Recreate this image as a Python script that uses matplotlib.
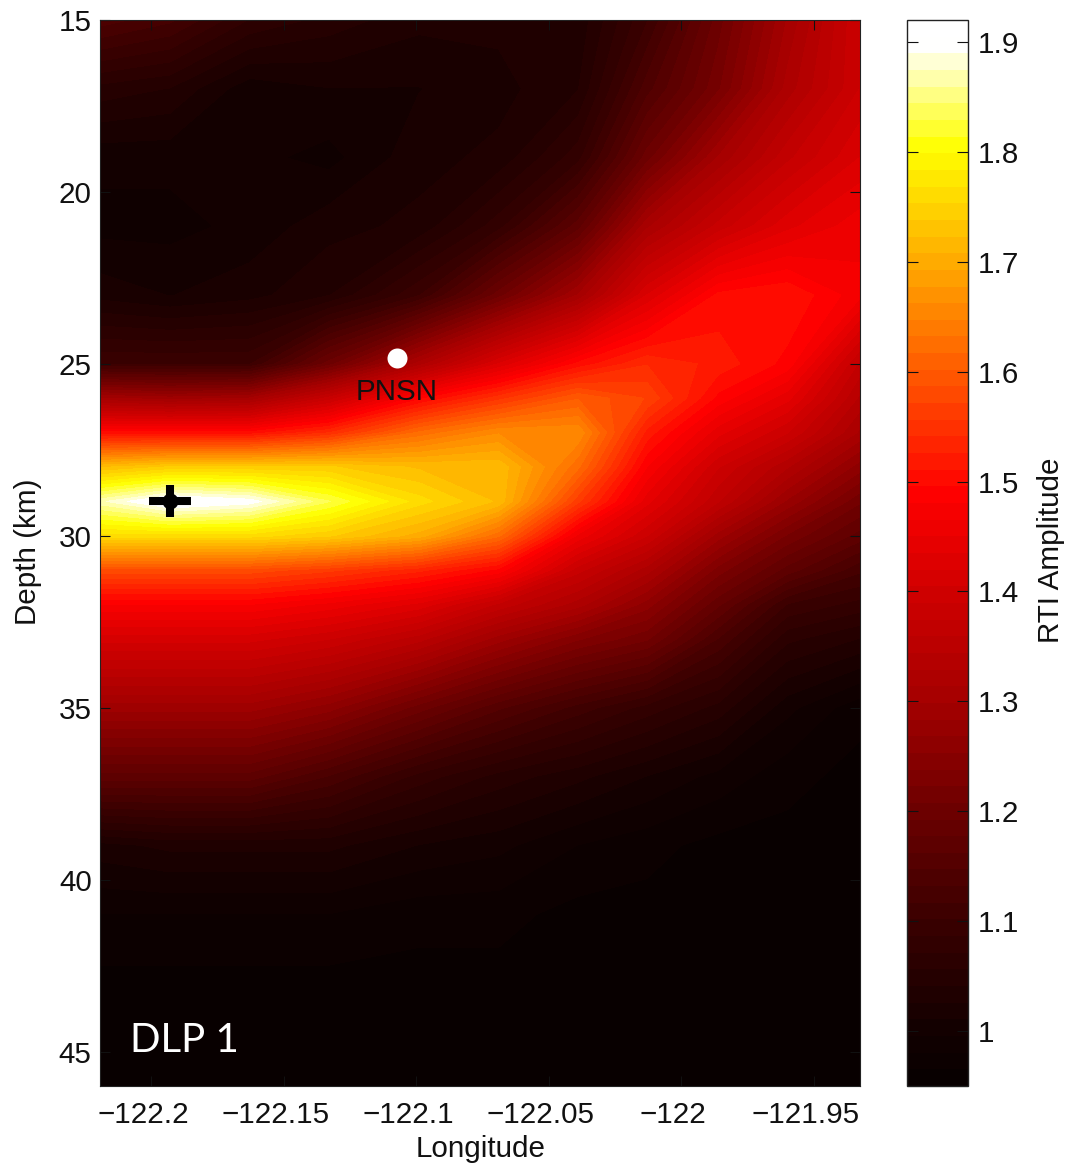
import numpy as np
import matplotlib
matplotlib.use('Agg')
import matplotlib.pyplot as plt
from matplotlib.colors import LinearSegmentedColormap
from matplotlib.transforms import ScaledTranslation

plt.rcParams['font.family'] = ['Liberation Sans', 'DejaVu Sans']

lons = [-122.2194, -122.193, -122.163, -122.133, -122.099, -122.069, -122.039, -122.013, -121.986, -121.96, -121.9326]
depths = [15, 17, 19, 21, 23, 25, 26, 27, 28, 29, 30, 31, 32, 33, 35, 37, 39, 41, 43, 46]

# RTI amplitude, one row per depth
rti = [
    [1.14, 1.12, 1.07, 1.05, 1.03, 1.03, 1.03, 1.10, 1.20, 1.30, 1.39],
    [1.05, 1.04, 1.00, 1.01, 1.01, 1.02, 1.04, 1.14, 1.22, 1.32, 1.39],
    [1.00, 1.00, 1.00, 0.99, 1.02, 1.03, 1.08, 1.20, 1.30, 1.37, 1.42],
    [0.99, 0.99, 1.00, 1.02, 1.03, 1.08, 1.17, 1.31, 1.38, 1.43, 1.46],
    [1.02, 1.01, 1.02, 1.04, 1.10, 1.20, 1.30, 1.42, 1.50, 1.51, 1.47],
    [1.10, 1.10, 1.10, 1.20, 1.32, 1.42, 1.50, 1.54, 1.52, 1.49, 1.37],
    [1.30, 1.29, 1.30, 1.38, 1.49, 1.55, 1.60, 1.57, 1.49, 1.44, 1.34],
    [1.50, 1.50, 1.50, 1.54, 1.62, 1.66, 1.66, 1.52, 1.44, 1.39, 1.31],
    [1.72, 1.74, 1.74, 1.74, 1.72, 1.72, 1.62, 1.48, 1.39, 1.33, 1.26],
    [1.87, 1.92, 1.90, 1.83, 1.76, 1.72, 1.56, 1.44, 1.36, 1.28, 1.21],
    [1.76, 1.76, 1.76, 1.74, 1.70, 1.62, 1.46, 1.39, 1.29, 1.22, 1.17],
    [1.58, 1.58, 1.58, 1.56, 1.53, 1.49, 1.38, 1.32, 1.23, 1.17, 1.12],
    [1.48, 1.48, 1.48, 1.46, 1.43, 1.37, 1.32, 1.26, 1.18, 1.10, 1.08],
    [1.41, 1.41, 1.41, 1.39, 1.35, 1.29, 1.24, 1.21, 1.13, 1.06, 1.04],
    [1.29, 1.29, 1.29, 1.26, 1.20, 1.15, 1.11, 1.08, 1.05, 1.00, 0.97],
    [1.17, 1.17, 1.17, 1.13, 1.08, 1.05, 1.03, 1.01, 0.99, 0.97, 0.96],
    [1.02, 1.03, 1.03, 1.03, 1.01, 1.00, 0.98, 0.97, 0.96, 0.96, 0.96],
    [0.98, 0.98, 0.98, 0.98, 0.97, 0.97, 0.96, 0.96, 0.96, 0.96, 0.96],
    [0.96, 0.96, 0.96, 0.96, 0.96, 0.96, 0.96, 0.96, 0.96, 0.96, 0.96],
    [0.95, 0.95, 0.95, 0.95, 0.95, 0.95, 0.95, 0.95, 0.95, 0.95, 0.95],
]

lon_ticks = [-122.2, -122.15, -122.1, -122.05, -122, -121.95]
lon_labels = ['\u2212122.2', '\u2212122.15', '\u2212122.1', '\u2212122.05', '\u2212122', '\u2212121.95']
depth_ticks = [15, 20, 25, 30, 35, 40, 45]
cbar_ticks = [1, 1.1, 1.2, 1.3, 1.4, 1.5, 1.6, 1.7, 1.8, 1.9]
cbar_labels = ['1', '1.1', '1.2', '1.3', '1.4', '1.5', '1.6', '1.7', '1.8', '1.9']

pnsn_lon, pnsn_depth = -122.1074, 24.82
peak_lon, peak_depth = -122.193, 28.98

W, H = 1066, 1166
FS = 21.3
TXT = '#111111'

# anchors
vmin, vmax = 0.95, 1.92
def pos(v):
    return (v - vmin) / (vmax - vmin)
cmap = LinearSegmentedColormap.from_list('rti', [
    (0, '#080000'),
    (pos(1.0), '#140000'),
    (pos(1.1), '#3c0000'),
    (pos(1.2), '#6e0000'),
    (pos(1.3), '#a50000'),
    (pos(1.4), '#d00000'),
    (pos(1.49), '#ff0000'),
    (pos(1.81), '#ffff00'),
    (pos(1.905), '#ffffff'),
    (1, '#ffffff')], N=64)
levels = np.linspace(vmin, vmax, 65)

fig = plt.figure(figsize=(W / 100, H / 100), dpi=100)
ax = fig.add_axes([100 / W, 1 - 1086 / H, 760 / W, 1066 / H])
cs = ax.contourf(lons, depths, rti, levels=levels, cmap=cmap, vmin=vmin, vmax=vmax, antialiased=False)

ax.set_xlim(-122.2194, -121.9326)
ax.set_ylim(46, 15)
ax.set_xticks(lon_ticks)
ax.set_xticklabels(lon_labels)
ax.set_yticks(depth_ticks)
ax.tick_params(direction='in', length=7.5, width=0.8, top=True, right=True, labelsize=FS, colors=TXT, pad=6)
ax.tick_params(axis='x', pad=11)
# the tick labels sit a little left of their ticks in the original
shift = ScaledTranslation(-8.5 / 100, 0, fig.dpi_scale_trans)
for lab in ax.get_xticklabels():
    lab.set_transform(lab.get_transform() + shift)
for s in ax.spines.values():
    s.set_linewidth(0.8)
    s.set_color('#222222')

ax.plot(pnsn_lon, pnsn_depth, 'o', color='white', ms=14.4, mew=0)
ax.text(pnsn_lon, 25.82, 'PNSN', ha='center', va='center', fontsize=FS, color=TXT)

ax.plot(peak_lon, peak_depth, '_', color='black', ms=30, mew=5.8)
ax.plot(peak_lon, peak_depth, '|', color='black', ms=23, mew=5.8)
ax.plot(peak_lon, peak_depth, 'o', color='black', ms=11.5, mew=0)

ax.text(130 / W, 1 - 1040 / H, 'DLP 1', transform=fig.transFigure, ha='left', va='center',
        fontsize=29, color='white', family=['Lato', 'DejaVu Sans'])

fig.text(28 / W, 1 - 552 / H, 'Depth (km)', rotation=90, ha='center', va='center', fontsize=FS, color=TXT)
fig.text(481 / W, 1 - 1149 / H, 'Longitude', ha='center', va='center', fontsize=FS, color=TXT)

cax = fig.add_axes([907 / W, 1 - 1086 / H, 61 / W, 1066 / H])
cb = fig.colorbar(cs, cax=cax)
cb.set_ticks(cbar_ticks)
cb.set_ticklabels(cbar_labels)
cb.minorticks_off()
cax.tick_params(direction='in', length=8, width=0.8, left=True, right=True, labelsize=FS, colors=TXT, pad=7)
cb.outline.set_linewidth(1.0)
cb.outline.set_edgecolor('#222222')
fig.text(1051 / W, 1 - 550 / H, 'RTI Amplitude', rotation=90, ha='center', va='center', fontsize=FS, color=TXT)

fig.savefig('out.png', dpi=100)
